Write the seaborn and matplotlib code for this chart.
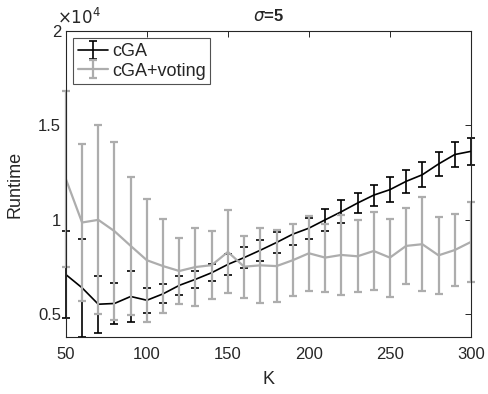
import pandas as pd
import matplotlib
matplotlib.use("Agg")
import matplotlib.pyplot as plt
import seaborn as sns
from matplotlib.ticker import FixedLocator, FuncFormatter

# Dados (Runtime em unidades absolutas)
K = [50, 60, 70, 80, 90, 100, 110, 120, 130, 140, 150, 160, 170,
     180, 190, 200, 210, 220, 230, 240, 250, 260, 270, 280, 290, 300]

cga_mean = [7100, 6400, 5530, 5570, 5940, 5740, 6080, 6530, 6850, 7200, 7640, 8000, 8390,
            8800, 9240, 9560, 10000, 10430, 10890, 11310, 11600, 12040, 12390, 12960, 13460, 13630]
cga_err = [2300, 2600, 1500, 1100, 1350, 650, 500, 500, 450, 450, 550, 550, 550,
           550, 550, 560, 600, 600, 550, 560, 680, 600, 650, 650, 640, 700]

vot_mean = [12160, 9860, 10000, 9400, 8620, 7860, 7550, 7290, 7500, 7600, 8300, 7520, 7590,
            7550, 7860, 8230, 8000, 8140, 8070, 8350, 8000, 8620, 8710, 8120, 8400, 8830]
vot_err = [4650, 4150, 5000, 4700, 3670, 3250, 2470, 1730, 2050, 1800, 2200, 1650, 2000,
           1900, 1900, 2000, 1800, 2100, 1900, 2050, 2070, 2000, 2500, 2050, 1900, 2100]

labels = ["cGA", "cGA+voting"]
colors = ["black", "#adadad"]

df = pd.concat([
    pd.DataFrame({"K": K, "Runtime": cga_mean, "err": cga_err, "metodo": labels[0]}),
    pd.DataFrame({"K": K, "Runtime": vot_mean, "err": vot_err, "metodo": labels[1]}),
])

sns.set_style("white")
plt.rcParams["font.family"] = ["Liberation Sans", "DejaVu Sans"]
plt.rcParams["mathtext.fontset"] = "dejavusans"

fig = plt.figure(figsize=(4.88, 3.94), dpi=100)
ax = fig.add_axes([0.135, 0.145, 0.83, 0.776])

handles = []
for lab, col, lw in zip(labels, colors, [1.2, 1.6]):
    sub = df[df["metodo"] == lab]
    sns.lineplot(data=sub, x="K", y="Runtime", color=col, linewidth=lw, ax=ax, legend=False)
    line = ax.lines[-1]
    eb = ax.errorbar(sub["K"], sub["Runtime"], yerr=sub["err"], fmt="none", ecolor=col,
                     elinewidth=lw, capsize=2.6, capthick=lw)
    for art in eb.get_children():
        art.set_clip_on(False)
    handles.append((line, eb))

ax.set_xlim(50, 300)
ax.set_ylim(3800, 20000)
ax.xaxis.set_major_locator(FixedLocator([50, 100, 150, 200, 250, 300]))
ax.yaxis.set_major_locator(FixedLocator([5000, 10000, 15000, 20000]))
ax.yaxis.set_major_formatter(FuncFormatter(lambda v, p: f"{v / 1e4:g}"))
ax.tick_params(direction="in", top=True, right=True, length=4, width=0.7,
               labelsize=12, colors="#262626", labelcolor="#262626")
ax.tick_params(axis="x", pad=7)
for s in ax.spines.values():
    s.set_color("#262626")
    s.set_linewidth(0.8)

ax.set_xlabel("K", fontsize=13, color="#262626")
ax.set_ylabel("Runtime", fontsize=13, color="#262626")
ax.xaxis.set_label_coords(0.5, -0.112)
ax.yaxis.set_label_coords(-0.104, 0.5)
ax.set_title(r"$\sigma$=5", fontsize=12, fontweight="bold", pad=7)
ax.text(-0.023, 1.015, r"$\times10^4$", transform=ax.transAxes, fontsize=12,
        ha="left", va="bottom", color="#262626")

leg = ax.legend(handles, labels, loc="upper left", fontsize=13, frameon=True,
                fancybox=False, edgecolor="#262626", borderaxespad=0.4,
                handlelength=1.7, handletextpad=0.2, borderpad=0.25, labelspacing=0.15)
leg.get_frame().set_linewidth(0.8)

fig.savefig("out.png", dpi=100)
